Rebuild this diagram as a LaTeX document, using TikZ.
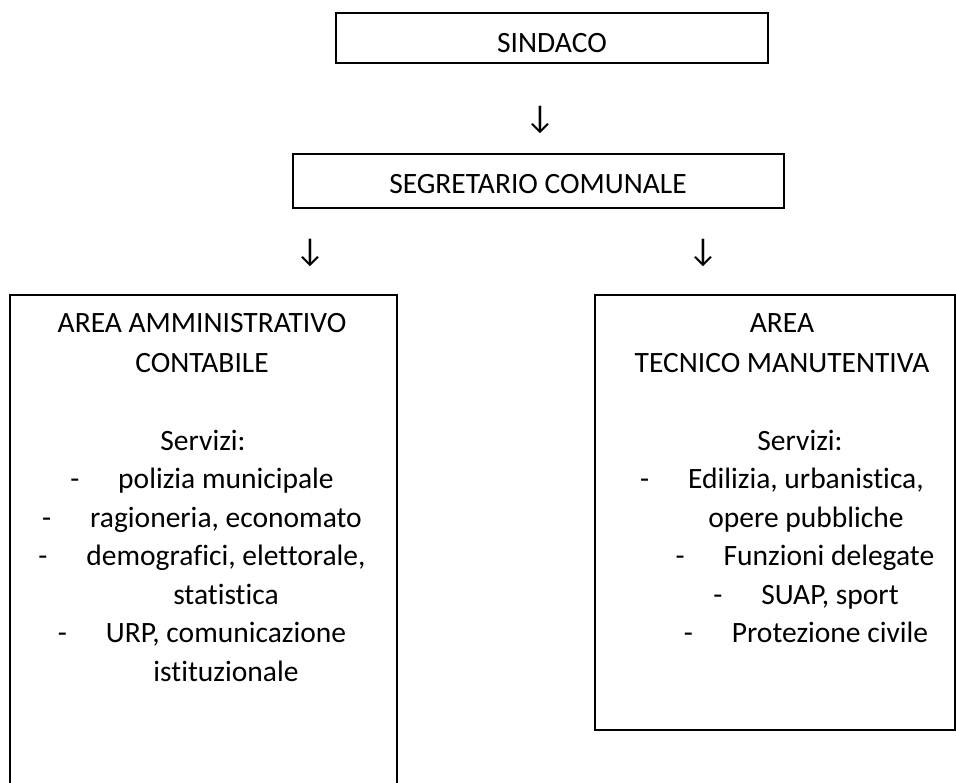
\documentclass[tikz,border=0pt]{standalone}
\usepackage{fontspec}
\setmainfont{Carlito}[Ligatures=NoCommon]
\usepackage{tikz}
\usetikzlibrary{positioning}
\newcommand{\organofont}{\fontsize{29.5}{35}\selectfont}
\newcommand{\voce}[1]{\makebox[48pt][l]{-}#1}

\begin{document}
\begin{tikzpicture}[
    x=1pt, y=-1pt,
    box/.style={draw, line width=1.6pt, inner sep=0pt},
    txt/.style={anchor=base, inner sep=0pt, font=\organofont},
    freccia/.style={anchor=center, inner sep=0pt, font=\fontsize{33}{35}\selectfont}
]
\useasboundingbox (0,0) rectangle (956,782);
\clip (0,0) rectangle (956,782);

% --- BOXES ---
\node[box, minimum width=432pt, minimum height=50pt] (sindaco) at (552,38) {};
\node[box, minimum width=491pt, minimum height=54pt] (segretario) at (538.5,181) {};
\node[box, minimum width=387pt, minimum height=495pt] (area_amm) at (203.5,542.5) {};
\node[box, minimum width=360pt, minimum height=435pt] (area_tec) at (775,512.5) {};

% --- TITLES ---
\node[txt] (sindaco_txt) at (552,52) {SINDACO};
\node[txt] (segretario_txt) at (538,193) {SEGRETARIO COMUNALE};

% --- ARROWS (glyphs) ---
\node[freccia] (freccia_top) at (540,120) {↓};
\node[freccia] (freccia_sx) at (310,253) {↓};
\node[freccia] (freccia_dx) at (703,253) {↓};

% --- AREA AMMINISTRATIVO CONTABILE ---
\foreach \i/\x/\y/\t in {
    1/202/332/{AREA AMMINISTRATIVO},
    2/202/372/{CONTABILE},
    3/203/450/{Servizi:},
    4/202/488/{\voce{polizia municipale}},
    5/202/527/{\voce{ragioneria, economato}},
    6/202/565/{\voce{demografici, elettorale,}},
    7/226/604/{statistica},
    8/202/642/{\voce{URP, comunicazione}},
    9/226/681/{istituzionale}}
    \node[txt] (amm_\i) at (\x,\y) {\t};

% --- AREA TECNICO MANUTENTIVA ---
\foreach \i/\x/\y/\t in {
    1/782/332/{AREA},
    2/782/372/{TECNICO MANUTENTIVA},
    3/800/450/{Servizi:},
    4/782/488/{\voce{Edilizia, urbanistica,}},
    5/806/527/{opere pubbliche},
    6/805/565/{\voce{Funzioni delegate}},
    7/806/604/{\voce{SUAP, sport}},
    8/806/642/{\voce{Protezione civile}}}
    \node[txt] (tec_\i) at (\x,\y) {\t};

\end{tikzpicture}
\end{document}
